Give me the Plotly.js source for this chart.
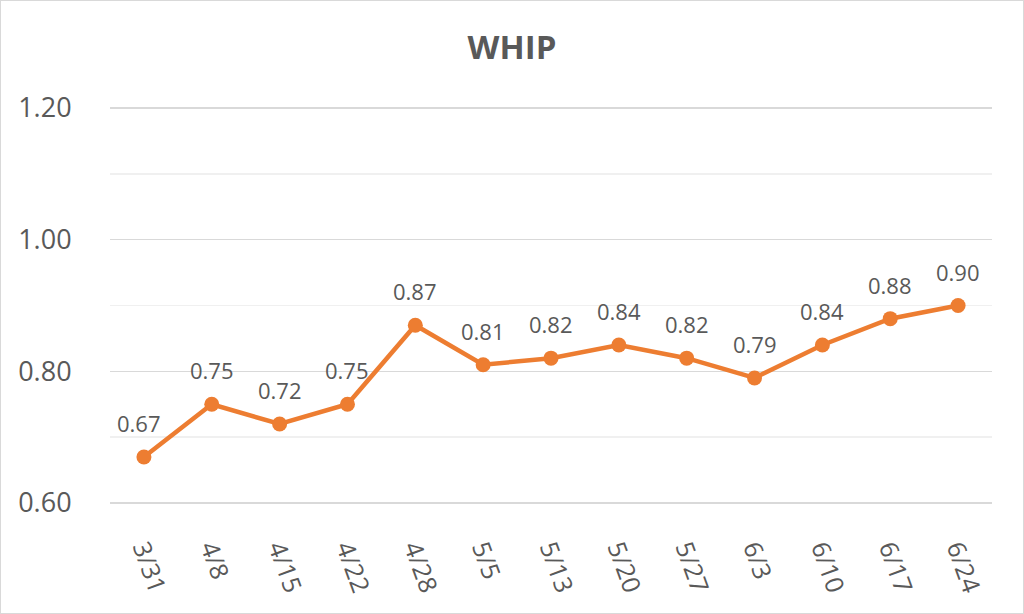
<!DOCTYPE html>
<html>
<head>
<meta charset="utf-8">
<script src="https://cdn.plot.ly/plotly-3.0.1.min.js"></script>
<style>
  html, body { margin: 0; padding: 0; background: #fff; }
  #frame { width: 1024px; height: 614px; box-sizing: border-box; border: 1px solid #d9d9d9; }
  #chart { width: 1022px; height: 612px; }
</style>
</head>
<body>
<div id="frame"><div id="chart"></div></div>
<script>
// Weekly WHIP figures
const weeks = ["3/31", "4/8", "4/15", "4/22", "4/28", "5/5", "5/13", "5/20", "5/27", "6/3", "6/10", "6/17", "6/24"];
const whip = [0.67, 0.75, 0.72, 0.75, 0.87, 0.81, 0.82, 0.84, 0.82, 0.79, 0.84, 0.88, 0.90];
const yTicks = [0.6, 0.8, 1.0, 1.2];
const yMinorTicks = [0.7, 0.9, 1.1];

const orange = "#ED7D31";
const textGray = "#595959";
const font = "Open Sans, Lato, sans-serif";

const trace = {
  x: weeks,
  y: whip,
  type: "scatter",
  mode: "lines+markers",
  line: { color: orange, width: 4.5 },
  marker: { color: orange, size: 15 },
  cliponaxis: false,
  hoverinfo: "x+y"
};

// value labels sitting above each point
const valueLabels = weeks.map((w, i) => ({
  x: w,
  y: whip[i],
  xref: "x",
  yref: "y",
  text: whip[i].toFixed(2),
  showarrow: false,
  yanchor: "middle",
  xanchor: "center",
  yshift: 34,
  xshift: i === 0 ? -5 : 0,
  font: { family: font, size: 22, color: textGray }
}));

const layout = {
  width: 1022,
  height: 612,
  // a little padding on the value range keeps the edge grid lines visible
  margin: { l: 109, r: 31, t: 105, b: 108 },
  paper_bgcolor: "#fff",
  plot_bgcolor: "#fff",
  showlegend: false,
  title: {
    text: "<b>WHIP</b>",
    font: { family: font, size: 33, color: textGray },
    x: 0.5, xanchor: "center",
    y: 0.924, yanchor: "middle"
  },
  annotations: valueLabels,
  xaxis: {
    type: "category",
    range: [-0.5, weeks.length - 0.5],
    tickangle: 70,
    tickfont: { family: font, size: 25, color: textGray },
    showgrid: false,
    zeroline: false,
    showline: false,
    ticks: "outside",
    ticklen: 18,
    tickcolor: "rgba(0,0,0,0)"
  },
  yaxis: {
    range: [0.597, 1.203],
    tickvals: yTicks,
    ticktext: yTicks.map(v => v.toFixed(2)),
    tickfont: { family: font, size: 27, color: textGray },
    showgrid: true,
    gridcolor: "#d9d9d9",
    gridwidth: 1.5,
    zeroline: false,
    showline: false,
    ticks: "outside",
    ticklen: 32,
    tickcolor: "rgba(0,0,0,0)",
    minor: { tickvals: yMinorTicks, showgrid: true, gridcolor: "#f0f0f0", gridwidth: 1.5 }
  }
};

Plotly.newPlot("chart", [trace], layout, { displayModeBar: false, staticPlot: true });
</script>
</body>
</html>
